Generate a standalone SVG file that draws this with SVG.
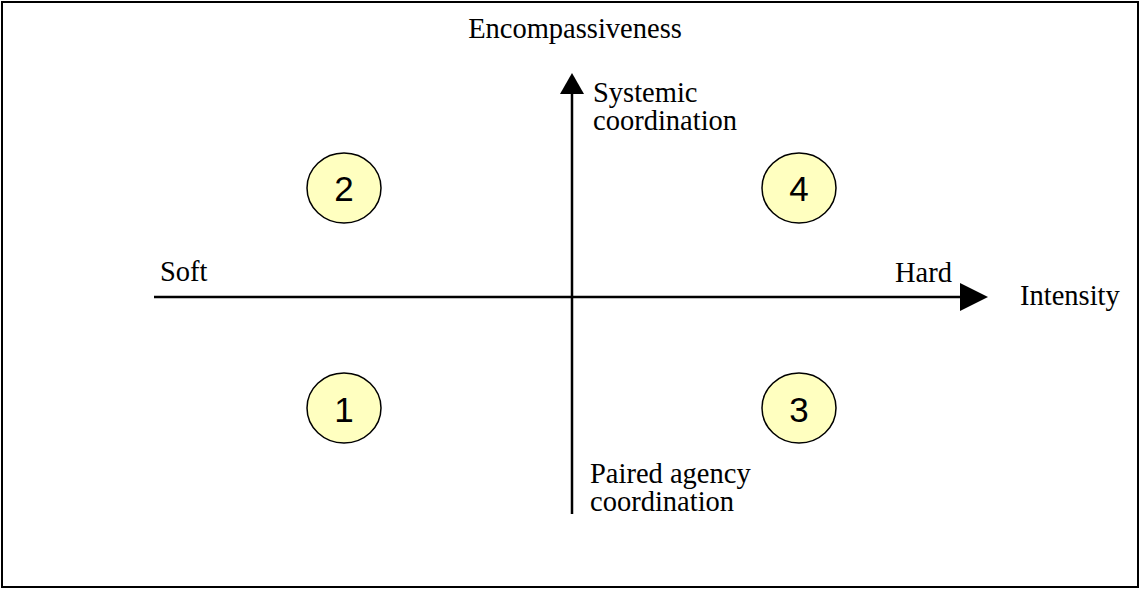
<svg xmlns="http://www.w3.org/2000/svg" width="1140" height="589" viewBox="0 0 1140 589">
<style>
.t{font-family:"Liberation Serif",serif;font-size:28.5px;fill:#000}
.n{font-family:"Liberation Sans",sans-serif;font-size:35px;fill:#000;text-anchor:middle}
.c{fill:#ffffc0;stroke:#000;stroke-width:1.5}
.ax{stroke:#000;stroke-width:2.5;fill:none}
</style>
<rect x="2" y="2" width="1136" height="585" fill="#fff" stroke="#000" stroke-width="2"/>
<g id="connectors">
<line class="ax" x1="572" y1="92" x2="572" y2="514"/>
<polygon points="572,73 560,94 584,94" fill="#000"/>
<line class="ax" x1="154" y1="297" x2="962" y2="297"/>
<polygon points="988,297 960,283 960,311" fill="#000"/>
</g>
<g id="title"><text class="t" x="575" y="38" text-anchor="middle">Encompassiveness</text></g>
<g id="systemic"><text class="t" x="593" y="102">Systemic</text><text class="t" x="593" y="130">coordination</text></g>
<g id="paired"><text class="t" x="590" y="483">Paired agency</text><text class="t" x="590" y="511">coordination</text></g>
<g id="soft"><text class="t" x="160" y="281">Soft</text></g>
<g id="hard"><text class="t" x="895" y="282">Hard</text></g>
<g id="intensity"><text class="t" x="1020" y="305">Intensity</text></g>
<g id="q2"><ellipse class="c" cx="344" cy="188" rx="37" ry="35"/><text class="n" x="344" y="201">2</text></g>
<g id="q4"><ellipse class="c" cx="799" cy="188" rx="37" ry="35"/><text class="n" x="799" y="201">4</text></g>
<g id="q1"><ellipse class="c" cx="344" cy="408" rx="37" ry="35"/><text class="n" x="344" y="422">1</text></g>
<g id="q3"><ellipse class="c" cx="799" cy="408" rx="37" ry="35"/><text class="n" x="799" y="422">3</text></g>
</svg>
